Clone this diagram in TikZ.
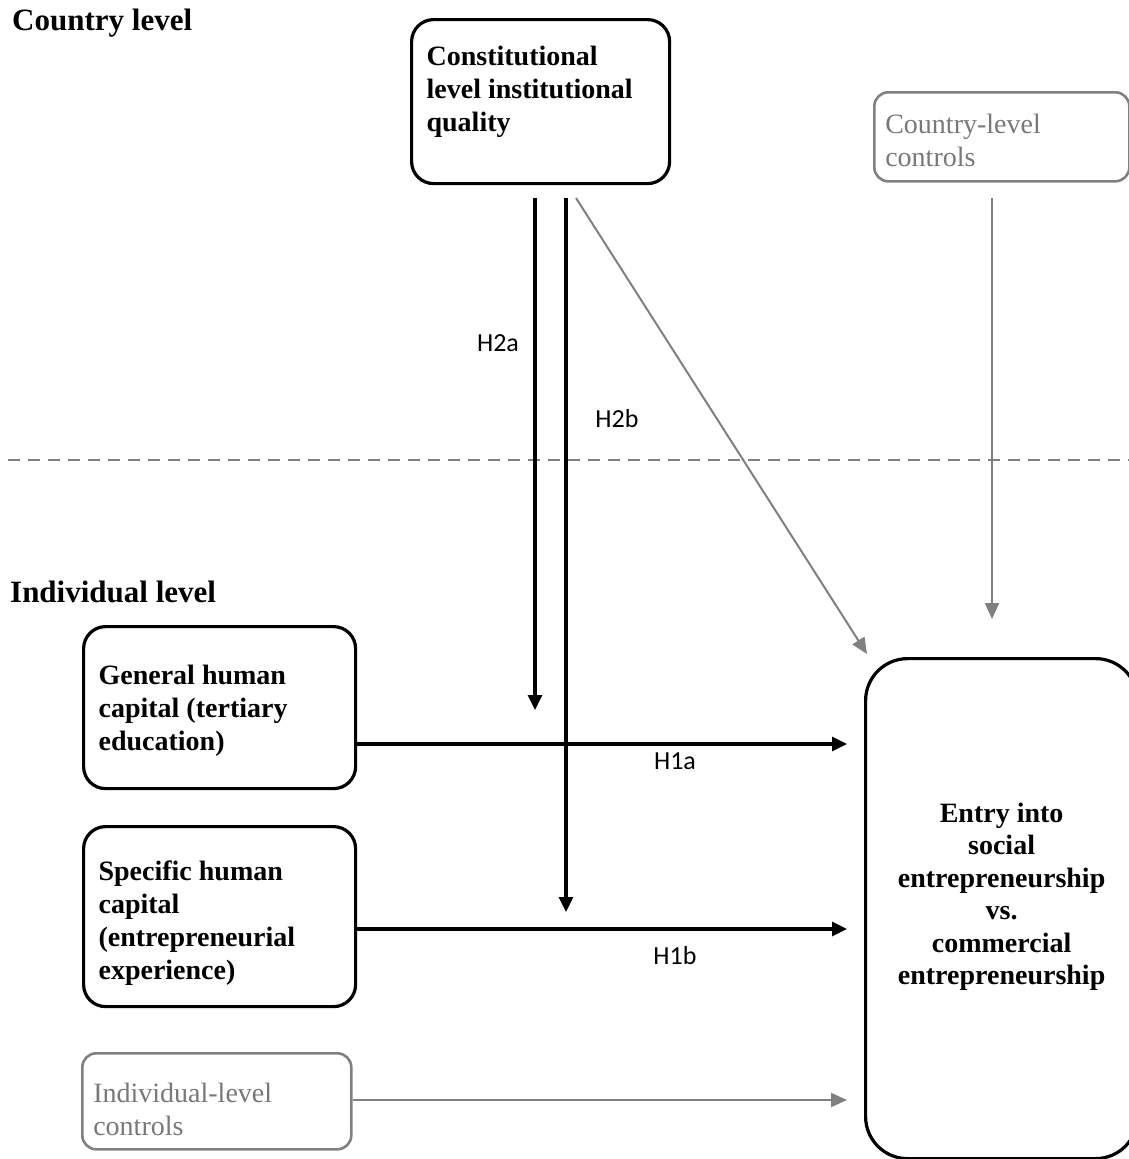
\documentclass[tikz,border=0pt]{standalone}
\usepackage{fontspec}
\setmainfont{Liberation Serif}
\newfontfamily\calfont{Carlito}
\usetikzlibrary{arrows.meta}
\definecolor{grayline}{RGB}{128,128,128}
\definecolor{graytext}{RGB}{120,120,120}
\newcommand{\btx}[4]{\parbox[c][#2pt][t]{#1pt}{\vspace*{#3pt}\raggedright\fontsize{28}{33}\selectfont #4}}
\begin{document}
\begin{tikzpicture}[x=1pt,y=-1pt,
  bbox/.style={draw=black,line width=3.2pt,rounded corners=22pt,inner ysep=0pt,anchor=north west,font=\bfseries},
  gbox/.style={draw=grayline,line width=2.6pt,rounded corners=14pt,inner ysep=0pt,anchor=north west,text=graytext},
  heading/.style={anchor=base west,inner sep=0pt,font=\fontsize{31}{36}\selectfont\bfseries},
  blk/.style={line width=3.2pt,-{Triangle[length=15pt,width=14pt]}},
  gry/.style={draw=grayline,line width=2pt,-{Triangle[length=16pt,width=14pt]}},
  hlab/.style={inner sep=0pt,font=\fontsize{26}{30}\selectfont\calfont}]
\useasboundingbox (0,0) rectangle (1129,1159);

% headings
\node[heading] (hcountry) at (12,30) {Country level};
\node[heading] (hindiv) at (10,602) {Individual level};

% dashed level separator
\draw[grayline,line width=2pt,dash pattern=on 12pt off 8pt] (8,460) -- (1129,460);

% boxes
\node[bbox,inner xsep=15pt] (inst) at (410,18) {\btx{228}{164}{26}{Constitutional level institutional quality}};
\node[gbox,inner xsep=11pt] (cctrl) at (873,91) {\btx{233}{89}{22}{Country-level controls}};
\node[bbox,inner xsep=15pt] (gen) at (82,625) {\btx{242}{162}{38}{General human capital (tertiary education)}};
\node[bbox,inner xsep=15pt] (spec) at (82,825) {\btx{242}{180}{34}{Specific human capital (entrepreneurial experience)}};
\node[gbox,inner xsep=11pt] (ictrl) at (81,1052) {\btx{247}{96}{30}{Individual-level controls}};
\node[draw=black,line width=3.2pt,rounded corners=42pt,inner sep=0pt,anchor=north west,font=\bfseries] (entry) at (864,657)
  {\parbox[c][500pt][t]{272pt}{\vspace*{144pt}\centering\fontsize{28}{32.5}\selectfont Entry into\\ social\\ entrepreneurship\\ vs.\\ commercial\\ entrepreneurship}};

% free ends of connectors
\coordinate (h2aS) at (535,198);
\coordinate (h2aE) at (535,710);
\coordinate (h2bS) at (566,198);
\coordinate (h2bE) at (566,912);
\coordinate (diagS) at (576,198);
\coordinate (diagE) at (867,654);
\coordinate (cS) at (992,198);
\coordinate (cE) at (992,619);

% moderating arrows
\draw[blk] (h2aS) -- (h2aE);
\draw[blk] (h2bS) -- (h2bE);
\draw[gry] (diagS) -- (diagE);
\draw[gry] (cS) -- (cE);

% direct effects
\draw[blk,shorten >=17pt] (gen.east |- 0,744) -- (entry.west |- 0,744);
\draw[blk,shorten >=17pt] (spec.east |- 0,929) -- (entry.west |- 0,929);
\draw[gry,shorten >=17pt] (ictrl.east |- 0,1100) -- (entry.west |- 0,1100);

% labels
\node[hlab] (lh2a) at (498,343) {H2a};
\node[hlab] (lh2b) at (617,419) {H2b};
\node[hlab] (lh1a) at (675,761) {H1a};
\node[hlab] (lh1b) at (675,956) {H1b};
\end{tikzpicture}
\end{document}
